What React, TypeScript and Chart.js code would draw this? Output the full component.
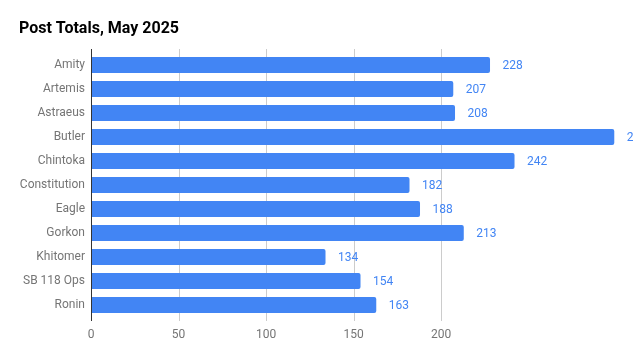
import React, { useEffect, useRef } from "react";
import { Chart, registerables } from "chart.js";

Chart.register(...registerables);

const categories = ["Amity", "Artemis", "Astraeus", "Butler", "Chintoka", "Constitution", "Eagle", "Gorkon", "Khitomer", "SB 118 Ops", "Ronin"];
const postTotals = [228, 207, 208, 299, 242, 182, 188, 213, 134, 154, 163];
const xTickValues = [0, 50, 100, 150, 200];
const chartTitle = "Post Totals, May 2025";

const BLUE = "#4285F4";
const FONT = "Roboto, 'Noto Sans', sans-serif";

export default function App() {
  const ref = useRef<HTMLCanvasElement | null>(null);

  useEffect(() => {
    document.body.style.margin = "0";
    const canvas = ref.current;
    if (!canvas) return;

    const decor = {
      id: "decor",
      beforeDatasetsDraw(chart: any) {
        const { ctx, chartArea, scales } = chart;
        const xs = scales.x;
        ctx.save();
        ctx.lineWidth = 1;
        ctx.strokeStyle = "#cccccc";
        for (const v of xTickValues) {
          if (v === 0) continue;
          const px = Math.round(xs.getPixelForValue(v)) + 0.5;
          ctx.beginPath();
          ctx.moveTo(px, chartArea.top - 4);
          ctx.lineTo(px, chartArea.bottom + 4);
          ctx.stroke();
        }
        ctx.restore();
      },
      afterDatasetsDraw(chart: any) {
        const { ctx, chartArea, scales } = chart;
        const xs = scales.x;
        ctx.save();
        // axis line
        const x0 = Math.round(xs.getPixelForValue(0)) + 0.5;
        ctx.strokeStyle = "#333333";
        ctx.lineWidth = 1;
        ctx.beginPath();
        ctx.moveTo(x0, chartArea.top - 4);
        ctx.lineTo(x0, chartArea.bottom + 4);
        ctx.stroke();
        // value labels
        const meta = chart.getDatasetMeta(0);
        ctx.fillStyle = BLUE;
        ctx.font = `12px ${FONT}`;
        ctx.textAlign = "left";
        ctx.textBaseline = "middle";
        meta.data.forEach((bar: any, i: number) => {
          ctx.fillText(String(postTotals[i]), bar.x + 12.5, bar.y + 1);
        });
        // title
        ctx.fillStyle = "#000000";
        ctx.font = `bold 16px ${FONT}`;
        ctx.textBaseline = "alphabetic";
        ctx.fillText(chartTitle, 19, 33);
        ctx.restore();
      },
    };

    const chart = new Chart(canvas, {
      type: "bar",
      data: {
        labels: categories,
        datasets: [
          {
            data: postTotals,
            backgroundColor: BLUE,
            borderRadius: 2,
            borderSkipped: "start",
            barPercentage: 0.667,
            categoryPercentage: 1,
          },
        ],
      },
      options: {
        indexAxis: "y",
        animation: false,
        responsive: true,
        maintainAspectRatio: false,
        layout: { padding: { top: 53, left: 0, right: 0, bottom: 0 } },
        plugins: {
          legend: { display: false },
          tooltip: { enabled: false },
          title: { display: false },
        },
        scales: {
          x: {
            type: "linear",
            min: 0,
            max: 309.7,
            grid: { display: false, drawTicks: false },
            border: { display: false },
            afterBuildTicks(scale: any) {
              scale.ticks = xTickValues.map((v) => ({ value: v }));
            },
            afterFit(scale: any) {
              scale.height = 43;
            },
            ticks: {
              color: "#757575",
              font: { family: FONT, size: 12 },
              padding: 11,
              maxRotation: 0,
              autoSkip: false,
            },
          },
          y: {
            grid: { display: false, drawTicks: false },
            border: { display: false },
            afterFit(scale: any) {
              scale.width = 91;
            },
            ticks: {
              color: "#757575",
              font: { family: FONT, size: 12 },
              padding: 6,
              autoSkip: false,
            },
          },
        },
      },
      plugins: [decor],
    });

    return () => chart.destroy();
  }, []);

  return (
    <div style={{ width: 633, height: 360, position: "relative", background: "#fff" }}>
      <canvas ref={ref} />
    </div>
  );
}
